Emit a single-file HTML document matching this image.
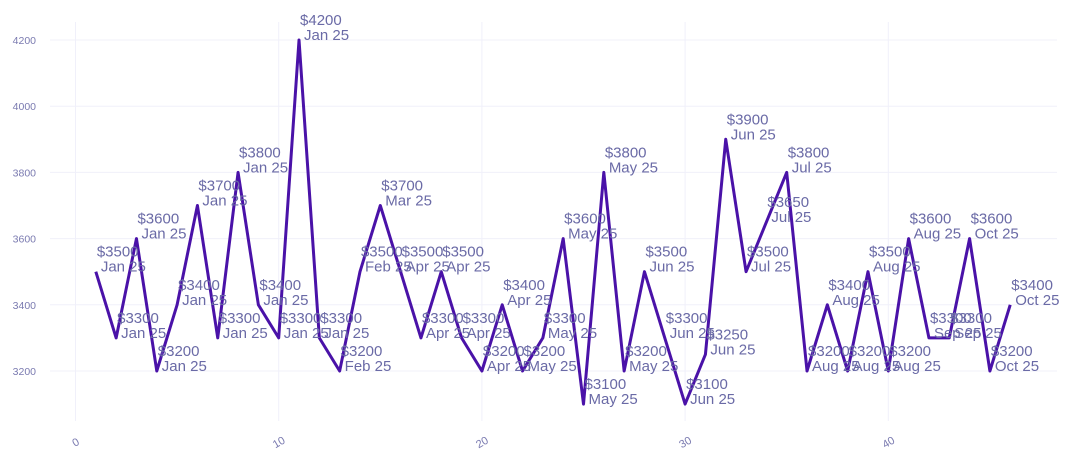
<!DOCTYPE html><html><head><meta charset="utf-8"><style>body{margin:0;background:#fff}svg{display:block;font-family:"Liberation Sans",sans-serif}</style></head><body>
<svg id="s" width="1072" height="462" xmlns="http://www.w3.org/2000/svg"></svg>
<script>
const v=[3500,3300,3600,3200,3400,3700,3300,3800,3400,3300,4200,3300,3200,3500,3700,3500,3300,3500,3300,3200,3400,3200,3300,3600,3100,3800,3200,3500,3300,3100,3250,3900,3500,3650,3800,3200,3400,3200,3500,3200,3600,3300,3300,3600,3200,3400];
const m=["Jan","Jan","Jan","Jan","Jan","Jan","Jan","Jan","Jan","Jan","Jan","Jan","Feb","Feb","Mar","Apr","Apr","Apr","Apr","Apr","Apr","May","May","May","May","May","May","Jun","Jun","Jun","Jun","Jun","Jul","Jul","Jul","Aug","Aug","Aug","Aug","Aug","Aug","Sep","Sep","Oct","Oct","Oct"];
const X=i=>75.5+i*20.32,Y=y=>371-(y-3200)*0.331;
let h='';
for(let i=0;i<=4;i++){const x=X(i*10);h+=`<line x1="${x}" y1="22" x2="${x}" y2="421" stroke="#f0f0fa"/><text x="${x}" y="446" font-size="11" fill="#7a7ab0" text-anchor="middle" transform="rotate(-30 ${x} 442)">${i*10}</text>`;}
for(let y=3200;y<=4200;y+=200){const yy=Y(y);h+=`<line x1="50" y1="${yy}" x2="1057" y2="${yy}" stroke="#f0f0fa"/><text x="36" y="${yy+4}" font-size="10.5" fill="#7a7ab0" text-anchor="end">${y}</text>`;}
h+=`<polyline fill="none" stroke="#4a12a8" stroke-width="3" stroke-linejoin="round" points="${v.map((y,i)=>X(i+1)+','+Y(y)).join(' ')}"/>`;
v.forEach((y,i)=>{const x=X(i+1),yy=Y(y);h+=`<text font-size="15" fill="#6a6aa6"><tspan x="${x+1}" y="${yy-15}">$${y}</tspan><tspan x="${x+5}" y="${yy}">${m[i]} 25</tspan></text>`;});
document.getElementById('s').innerHTML=h;
</script></body></html>
